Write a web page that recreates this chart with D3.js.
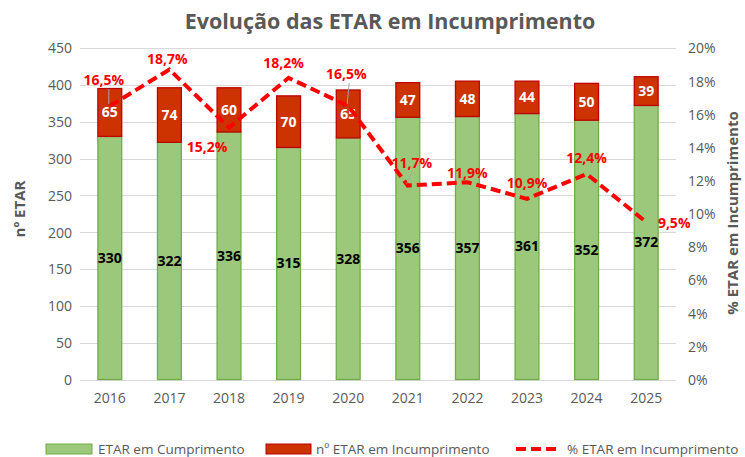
<!DOCTYPE html>
<html><head><meta charset="utf-8">
<script src="https://cdn.jsdelivr.net/npm/d3@7"></script>
<style>body{margin:0;background:#fff;} svg{display:block;font-family:"Open Sans",sans-serif;}</style>
</head><body>
<svg id="c" width="745" height="457"></svg>
<script>
const years = ["2016","2017","2018","2019","2020","2021","2022","2023","2024","2025"];
const cumprimento = [330,322,336,315,328,356,357,361,352,372];
const incumprimento = [65,74,60,70,65,47,48,44,50,39];
const pctIncumprimento = [16.5,18.7,15.2,18.2,16.5,11.7,11.9,10.9,12.4,9.5];
const leftTicks = [0,50,100,150,200,250,300,350,400,450];
const rightTicks = [0,2,4,6,8,10,12,14,16,18,20];
// label placement per point: [dx, dy] offset of label centre from point, leader line flag
const pctLabelPos = [[-6,-26,true],[-2,-10,false],[-22,20,false],[-5,-15,false],[-2,-32,true],[4,-22,true],[0,-9,false],[0,-16,false],[0,-16,false],[28,1,false]];

const svg = d3.select("#c");
const m={l:80,r:676,t:48,b:379.5};
const x = d3.scaleBand().domain(years).range([m.l,m.r]).paddingInner(0.6).paddingOuter(0.3);
const y = d3.scaleLinear().domain([0,450]).range([m.b,m.t]);
const y2 = d3.scaleLinear().domain([0,20]).range([m.b,m.t]);
const grey="#595959";

svg.append("text").attr("x",390).attr("y",29).attr("text-anchor","middle")
  .attr("font-size",21.5).attr("font-weight",700).attr("fill",grey).text("Evolução das ETAR em Incumprimento");

// gridlines
svg.append("g").selectAll("line").data(leftTicks).join("line")
  .attr("x1",m.l).attr("x2",m.r).attr("y1",d=>Math.round(y(d))+0.5).attr("y2",d=>Math.round(y(d))+0.5)
  .attr("stroke","#D9D9D9").attr("stroke-width",1);

// left axis
const ga = svg.append("g").attr("transform",`translate(${m.l-8},0)`)
  .call(d3.axisLeft(y).tickValues(leftTicks).tickSize(0).tickPadding(0));
ga.select(".domain").remove();
ga.selectAll("text").attr("font-size",14).attr("fill",grey).attr("font-family","'Open Sans',sans-serif").attr("dy","0.35em");

// right axis
const gb = svg.append("g").attr("transform",`translate(${m.r+12},0)`)
  .call(d3.axisRight(y2).tickValues(rightTicks).tickSize(0).tickPadding(0).tickFormat(d=>d+"%"));
gb.select(".domain").remove();
gb.selectAll("text").attr("font-size",14).attr("fill",grey).attr("font-family","'Open Sans',sans-serif").attr("dy","0.35em");

// x axis
const gx = svg.append("g").attr("transform",`translate(0,${m.b})`)
  .call(d3.axisBottom(x).tickSize(0).tickPadding(14));
gx.select(".domain").remove();
gx.selectAll("text").attr("font-size",14).attr("fill",grey).attr("font-family","'Open Sans',sans-serif");

// axis titles
svg.append("text").attr("transform",`translate(25,209) rotate(-90)`).attr("text-anchor","middle")
  .attr("font-size",15).attr("font-weight",700).attr("fill",grey).text("nº ETAR");
svg.append("text").attr("transform",`translate(738,213) rotate(-90)`).attr("text-anchor","middle")
  .attr("font-size",15).attr("font-weight",700).attr("fill",grey).text("% ETAR em Incumprimento");

// bars
const bw = x.bandwidth();
svg.append("g").selectAll("rect").data(years).join("rect")
  .attr("x",d=>x(d)).attr("width",bw)
  .attr("y",(d,i)=>y(cumprimento[i])).attr("height",(d,i)=>y(0)-y(cumprimento[i]))
  .attr("fill","#9BC87A").attr("stroke","#70AD47").attr("stroke-width",1.3);
svg.append("g").selectAll("rect").data(years).join("rect")
  .attr("x",d=>x(d)).attr("width",bw)
  .attr("y",(d,i)=>y(cumprimento[i]+incumprimento[i])).attr("height",(d,i)=>y(cumprimento[i])-y(cumprimento[i]+incumprimento[i]))
  .attr("fill","#CC3300").attr("stroke","#C00000").attr("stroke-width",1.3);

// bar labels
svg.append("g").selectAll("text").data(years).join("text")
  .attr("x",d=>x(d)+bw/2).attr("y",(d,i)=>y(cumprimento[i]/2)).attr("dy","0.35em")
  .attr("text-anchor","middle").attr("font-size",14).attr("font-weight",700).attr("fill","#000")
  .text((d,i)=>cumprimento[i]);
svg.append("g").selectAll("text").data(years).join("text")
  .attr("x",d=>x(d)+bw/2).attr("y",(d,i)=>y(cumprimento[i]+incumprimento[i]/2)).attr("dy","0.35em")
  .attr("text-anchor","middle").attr("font-size",14).attr("font-weight",700).attr("fill","#fff")
  .text((d,i)=>incumprimento[i]);

// line
const pts = years.map((d,i)=>[x(d)+bw/2, y2(pctIncumprimento[i])]);
svg.append("path").attr("d",d3.line()(pts)).attr("fill","none")
  .attr("stroke","#FF0000").attr("stroke-width",4).attr("stroke-dasharray","10,5");

// leader lines
pts.forEach((p,i)=>{
  const o=pctLabelPos[i];
  if(o[2]){
    svg.append("line").attr("x1",p[0]-1).attr("y1",p[1]-2).attr("x2",p[0]+o[0]*0.5+2).attr("y2",p[1]+o[1]+9)
      .attr("stroke","#A6A6A6").attr("stroke-width",1);
  }
});
// pct labels
svg.append("g").selectAll("text").data(pts).join("text")
  .attr("x",(p,i)=>p[0]+pctLabelPos[i][0]).attr("y",(p,i)=>p[1]+pctLabelPos[i][1]).attr("dy","0.35em")
  .attr("text-anchor","middle").attr("font-size",14).attr("font-weight",700).attr("fill","#FF0000")
  .text((p,i)=>pctIncumprimento[i].toFixed(1).replace(".",",")+"%");

// legend
const lg = svg.append("g").attr("transform","translate(0,449)");
lg.append("rect").attr("x",46).attr("y",-5).attr("width",46).attr("height",10).attr("fill","#9BC87A").attr("stroke","#70AD47");
lg.append("text").attr("x",98).attr("y",0).attr("dy","0.35em").attr("font-size",13.5).attr("fill",grey).text("ETAR em Cumprimento");
lg.append("rect").attr("x",266).attr("y",-5).attr("width",45).attr("height",10).attr("fill","#CC3300").attr("stroke","#C00000");
lg.append("text").attr("x",316).attr("y",0).attr("dy","0.35em").attr("font-size",13.5).attr("fill",grey).text("nº ETAR em Incumprimento");
lg.append("line").attr("x1",516).attr("x2",561).attr("y1",0).attr("y2",0).attr("stroke","#FF0000").attr("stroke-width",4).attr("stroke-dasharray","10,5");
lg.append("text").attr("x",567).attr("y",0).attr("dy","0.35em").attr("font-size",13.5).attr("fill",grey).text("% ETAR em Incumprimento");
</script>
</body></html>
